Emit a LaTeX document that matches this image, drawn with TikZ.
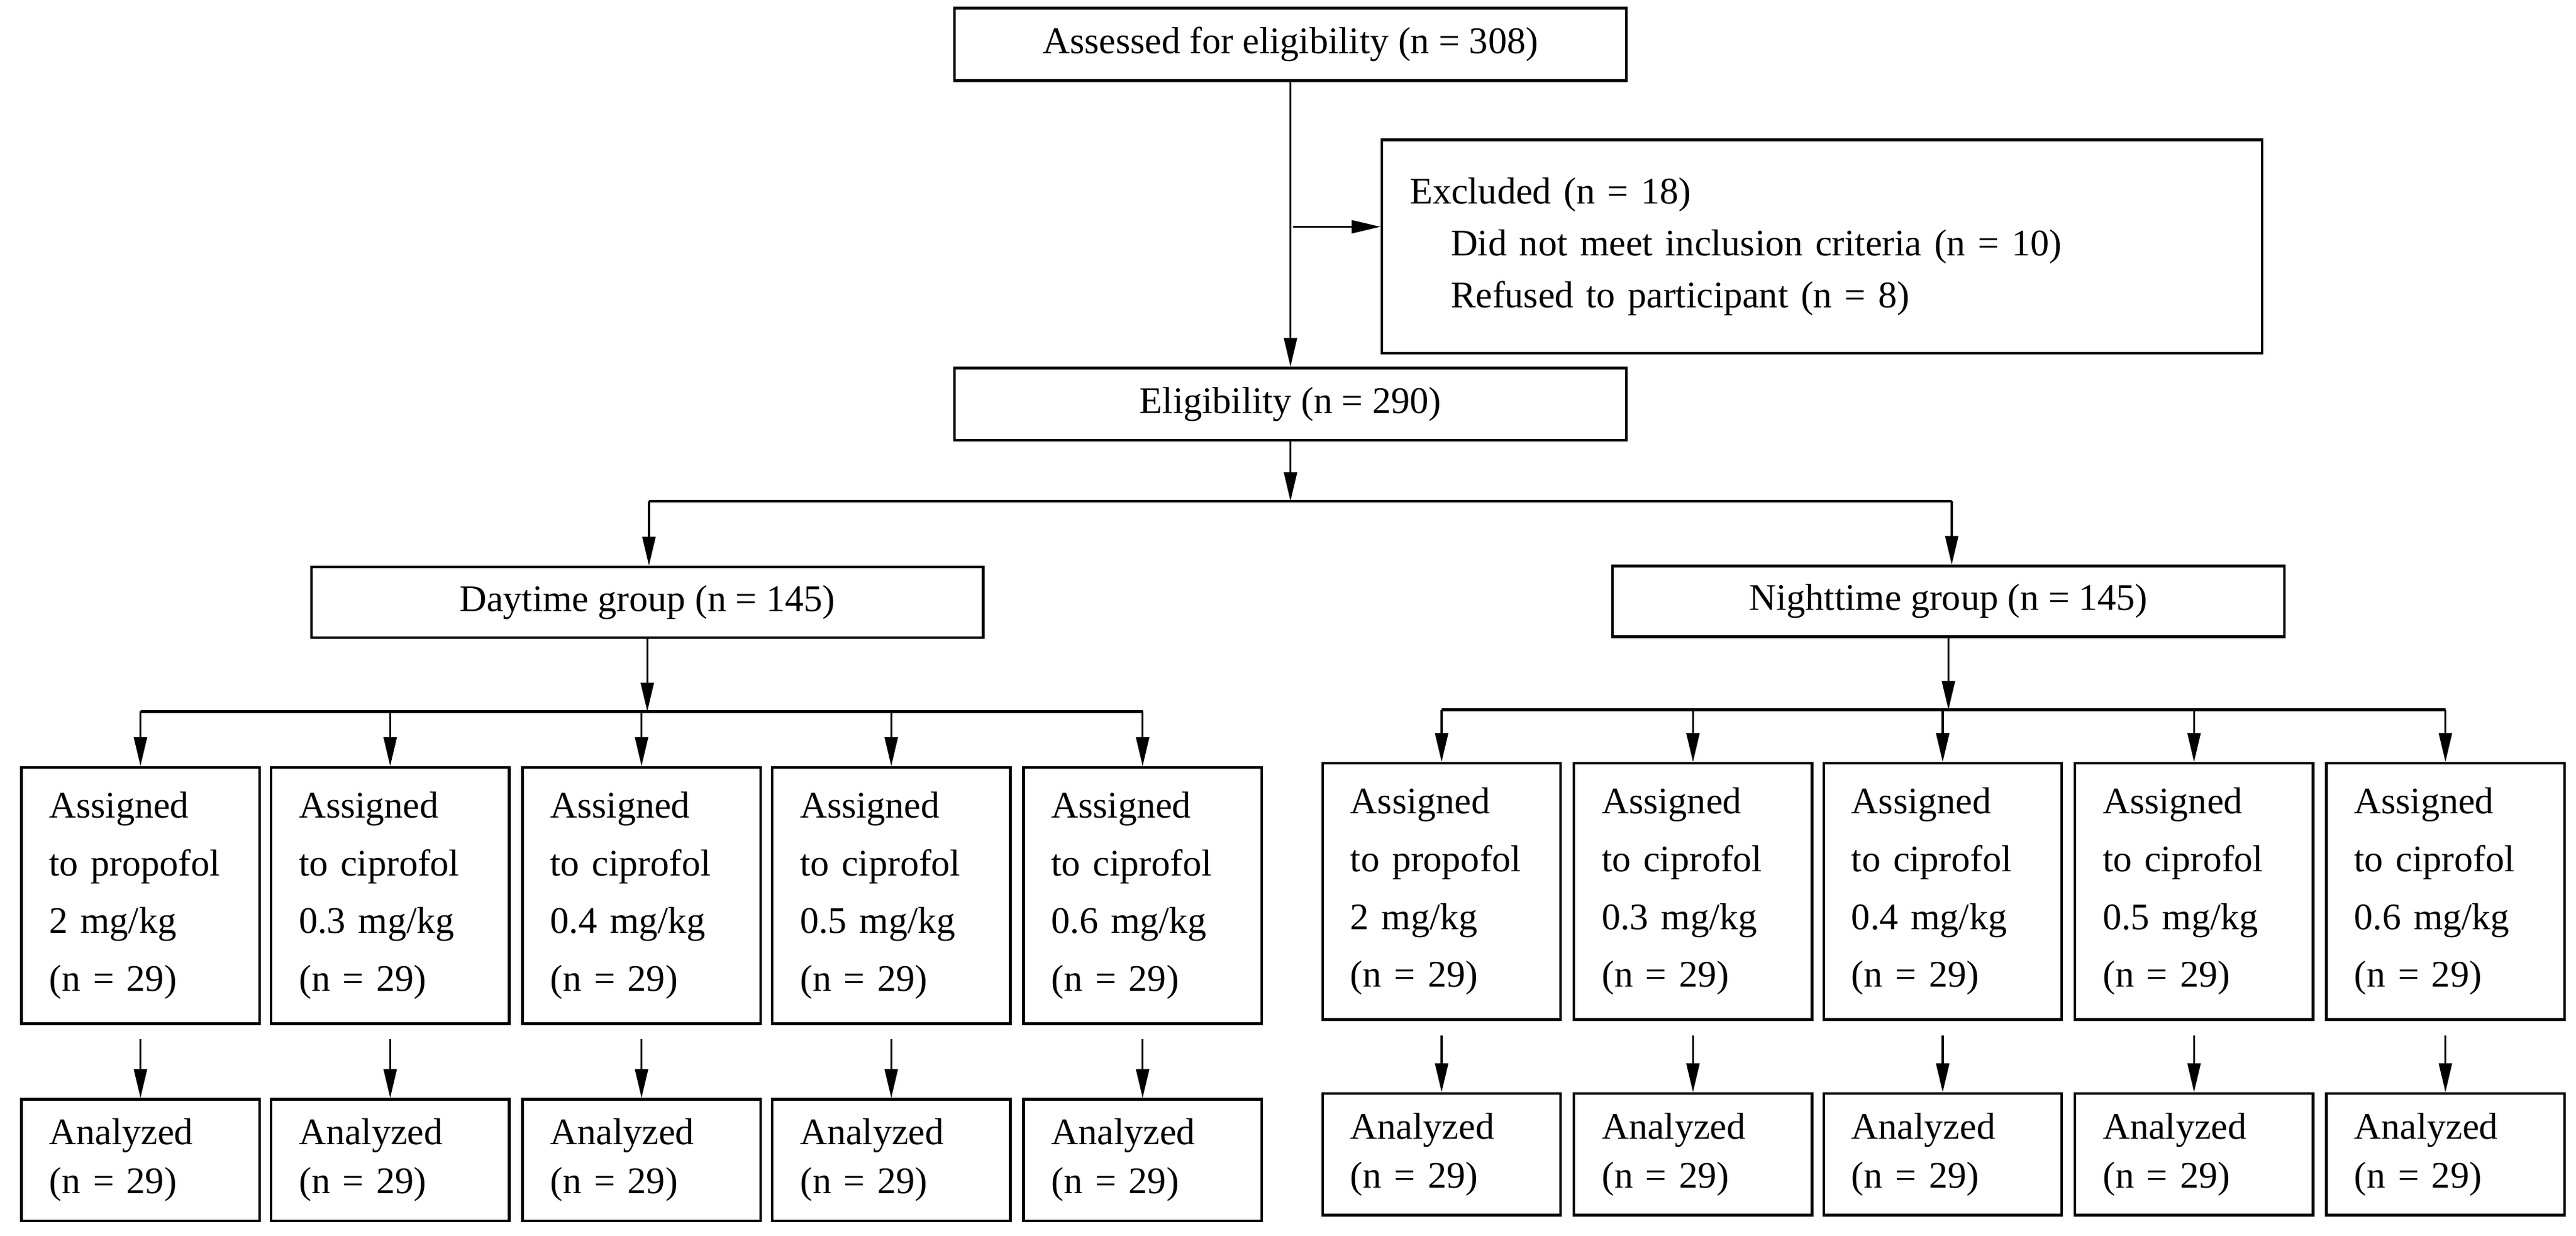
\documentclass[tikz,border=0pt]{standalone}
\usepackage{fontspec}
\setmainfont{Liberation Serif}
\usetikzlibrary{arrows.meta}
\begin{document}
\begin{tikzpicture}[x=0.02cm,y=-0.02cm,
  box/.style={draw,line width=0.9pt,inner sep=0pt,font=\rmfamily\fontsize{13}{15}\selectfont},
  big/.style={box,minimum width=8.18cm,minimum height=0.88cm},
  asg/.style={box,minimum width=2.9cm,minimum height=3.12cm,text width=2.22cm,align=left,font=\rmfamily\fontsize{13}{20}\selectfont},
  ana/.style={box,minimum width=2.9cm,minimum height=1.48cm,text width=2.22cm,align=left,font=\rmfamily\fontsize{13}{17}\selectfont},
  arr/.style={-{Triangle[width=4.5pt,length=10pt]},line width=0.7pt},
  ln/.style={line width=0.9pt}]
\useasboundingbox (0,0) rectangle (1568,752);
\node[big] (top) at (785.5,27) {Assessed for eligibility (n = 308)};
\node[box,minimum width=10.72cm,minimum height=2.6cm,text width=10.04cm,align=left,font=\rmfamily\fontsize{13}{18}\selectfont] (excl) at (1109,150)
 {Excluded (n = 18)\\\hspace*{0.5cm}Did not meet inclusion criteria (n = 10)\\\hspace*{0.5cm}Refused to participant (n = 8)};
\node[big] (elig) at (785.5,246) {Eligibility (n = 290)};
\node[big,minimum height=0.86cm] (day) at (394,366.5) {Daytime group (n = 145)};
\node[big,minimum height=0.86cm] (night) at (1186,366) {Nighttime group (n = 145)};
\draw[arr] (top.south) -- (elig.north);
\coordinate (ex) at (787,138);
\draw[arr] (ex) -- (ex -| excl.west);
\coordinate (sp) at (785.5,305);
\coordinate (spl) at (395,305);
\coordinate (spr) at (1188,305);
\draw[arr] (elig.south) -- (sp);
\draw[ln] (spl) -- (spr);
\draw[arr] (spl) -- (day.north -| spl);
\draw[arr] (spr) -- (night.north -| spr);
% daytime
\foreach \i/\cx/\dose/\drug in {1/85.5/{2 mg/kg}/propofol,2/237.5/{0.3 mg/kg}/ciprofol,3/390.5/{0.4 mg/kg}/ciprofol,4/542.5/{0.5 mg/kg}/ciprofol,5/695.5/{0.6 mg/kg}/ciprofol}{
  \node[asg] (d\i) at (\cx,545) {Assigned\\to \drug\\\dose\\(n = 29)};
  \node[ana] (da\i) at (\cx,706) {Analyzed\\(n = 29)};
  \draw[arr,shorten <=5pt] (d\i.south) -- (da\i.north);
}
\coordinate (dbr) at (394,433);
\draw[arr] (day.south) -- (dbr);
\draw[ln] (d1.north |- dbr) -- (d5.north |- dbr);
\foreach \i in {1,...,5}{\draw[arr] (d\i.north |- dbr) -- (d\i.north);}
% nighttime
\foreach \i/\cx/\dose/\drug in {1/877.5/{2 mg/kg}/propofol,2/1030.5/{0.3 mg/kg}/ciprofol,3/1182.5/{0.4 mg/kg}/ciprofol,4/1335.5/{0.5 mg/kg}/ciprofol,5/1488.5/{0.6 mg/kg}/ciprofol}{
  \node[asg] (n\i) at (\cx,542.5) {Assigned\\to \drug\\\dose\\(n = 29)};
  \node[ana] (na\i) at (\cx,702.5) {Analyzed\\(n = 29)};
  \draw[arr,shorten <=5pt] (n\i.south) -- (na\i.north);
}
\coordinate (nbr) at (1186,432);
\draw[arr] (night.south) -- (nbr);
\draw[ln] (n1.north |- nbr) -- (n5.north |- nbr);
\foreach \i in {1,...,5}{\draw[arr] (n\i.north |- nbr) -- (n\i.north);}
\end{tikzpicture}
\end{document}
